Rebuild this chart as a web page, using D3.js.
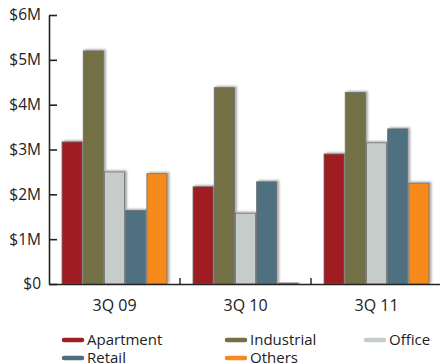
<!DOCTYPE html>
<html>
<head>
<meta charset="utf-8">
<script src="https://cdn.jsdelivr.net/npm/d3@7"></script>
<style>
  body { margin: 0; background: #fff; }
  svg text { font-family: "Open Sans", sans-serif; fill: #222; }
</style>
</head>
<body>
<div id="chart"></div>
<script>
// quarters and property types
var quarters = ['3Q 09', '3Q 10', '3Q 11'];
var series = ['Apartment', 'Industrial', 'Office', 'Retail', 'Others'];
var colors = ['#9e1f21', '#737045', '#c6ccc9', '#4f6f80', '#f68b1f'];

// values in $M
var apartment = [3.17, 2.17, 2.9];
var industrial = [5.2, 4.38, 4.27];
var office = [2.5, 1.58, 3.15];
var retail = [1.64, 2.28, 3.46];
var others = [2.46, 0.02, 2.25];

var yTicks = [0, 1, 2, 3, 4, 5, 6];

var values = [apartment, industrial, office, retail, others];

// flatten into rows for d3
var data = [];
quarters.forEach(function(q, qi) {
    series.forEach(function(s, si) {
        data.push({quarter: q, series: s, value: values[si][qi], color: colors[si]});
    });
});

var width = 440, height = 364;
var plotLeft = 49, plotRight = 442, plotTop = 15, plotBottom = 284;

const svg = d3.select('#chart').append('svg')
    .attr('width', width)
    .attr('height', height);

// soft shadow behind the bars
var defs = svg.append('defs');
var f = defs.append('filter').attr('id', 'shadow')
    .attr('x', '-20%').attr('y', '-20%').attr('width', '150%').attr('height', '140%');
f.append('feDropShadow')
    .attr('dx', 2).attr('dy', -1)
    .attr('stdDeviation', 1.2)
    .attr('flood-color', '#000')
    .attr('flood-opacity', 0.35);

var x0 = d3.scaleBand().domain(quarters).range([plotLeft, plotRight]);
var x1 = d3.scaleBand().domain(series)
    .range([13, 118])
    .paddingInner(0.05);
var y = d3.scaleLinear().domain([0, 6]).range([plotBottom, plotTop]);

// bars
svg.append('g').selectAll('rect')
    .data(data)
    .enter()
    .append('rect')
    .attr('x', d => x0(d.quarter) + x1(d.series))
    .attr('y', d => y(d.value))
    .attr('width', x1.bandwidth())
    .attr('height', d => plotBottom - y(d.value))
    .attr('fill', d => d.color)
    .attr('stroke', '#6f6f6f')
    .attr('stroke-width', 0.8)
    .attr('filter', 'url(#shadow)');

// y axis
var yAxis = d3.axisLeft(y)
    .tickValues(yTicks)
    .tickFormat(d => '$' + d + (d ? 'M' : ''))
    .tickSizeInner(-8)
    .tickSizeOuter(0)
    .tickPadding(8);

var ya = svg.append('g')
    .attr('transform', 'translate(' + plotLeft + ',0)')
    .call(yAxis);
ya.select('.domain').attr('stroke', '#222').attr('stroke-width', 1.6);
ya.selectAll('.tick line').attr('stroke', '#222').attr('stroke-width', 1.6);
ya.selectAll('text').style('font-size', '15.5px').attr('fill', '#222');

// x axis
var xAxis = d3.axisBottom(x0).tickSize(0).tickPadding(16);
var xa = svg.append('g')
    .attr('transform', 'translate(0,' + plotBottom + ')')
    .call(xAxis);
xa.select('.domain').attr('stroke', '#222').attr('stroke-width', 1.6);
xa.selectAll('text').style('font-size', '16px').attr('fill', '#222');

// small separators between quarters
svg.append('g').selectAll('line')
    .data(quarters.slice(1))
    .enter()
    .append('line')
    .attr('x1', d => x0(d))
    .attr('x2', d => x0(d))
    .attr('y1', plotBottom - 6)
    .attr('y2', plotBottom)
    .attr('stroke', '#222')
    .attr('stroke-width', 1.4);

// legend
var legendPos = [
    {x: 62, y: 340}, {x: 225, y: 340}, {x: 364, y: 340},
    {x: 62, y: 358}, {x: 225, y: 358}
];
var lg = svg.append('g').selectAll('g')
    .data(series)
    .enter()
    .append('g')
    .attr('transform', (d, i) => 'translate(' + legendPos[i].x + ',' + legendPos[i].y + ')');

lg.append('line')
    .attr('x1', 2).attr('x2', 20)
    .attr('stroke', (d, i) => colors[i])
    .attr('stroke-width', 4.5)
    .attr('stroke-linecap', 'round');

lg.append('text')
    .attr('x', 25)
    .attr('dy', '0.35em')
    .style('font-size', '15px')
    .text(d => d);
</script>
</body>
</html>
